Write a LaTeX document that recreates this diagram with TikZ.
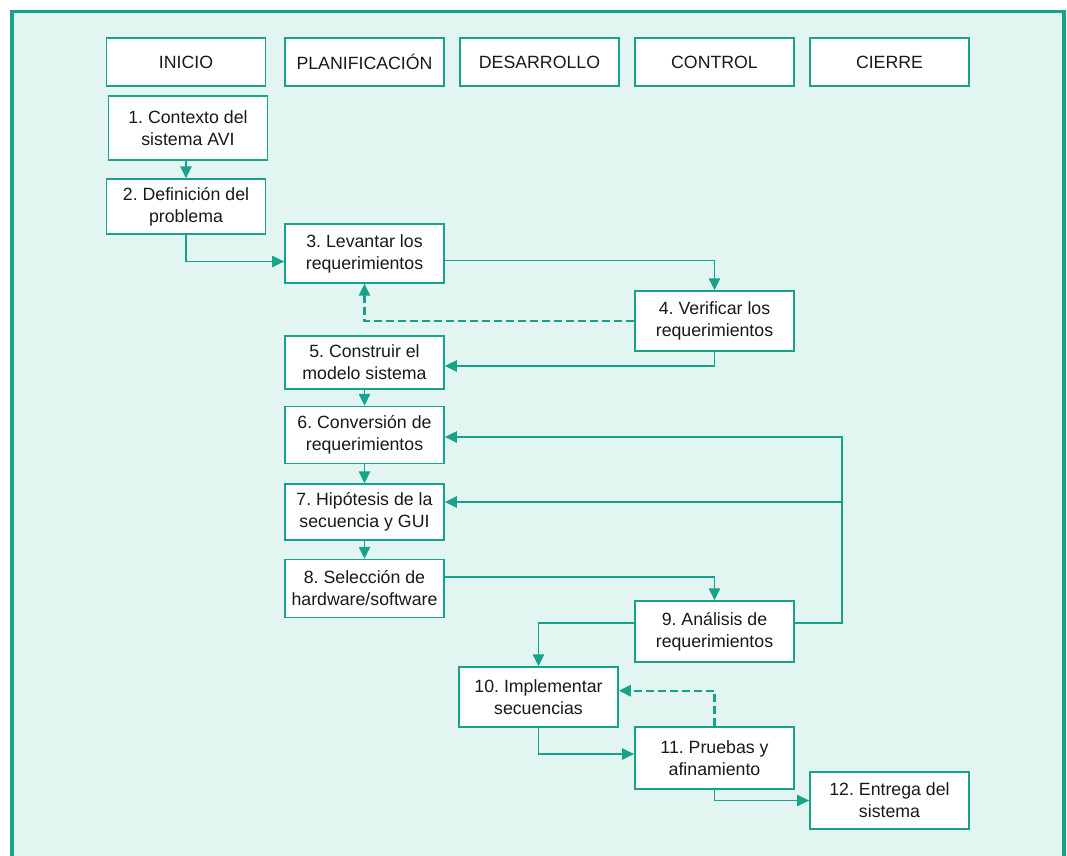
\documentclass[tikz,border=0pt]{standalone}
\usepackage{fontspec}
\setmainfont{Liberation Sans}
\usetikzlibrary{arrows.meta}
\definecolor{teal1}{RGB}{22,163,138}
\definecolor{bgc}{RGB}{227,245,240}
\definecolor{txt}{RGB}{25,25,25}
\frenchspacing
\begin{document}
\begin{tikzpicture}[x=0.75pt,y=-0.75pt,
 box/.style={draw=teal1, line width=1.1pt, fill=white, inner sep=0pt, minimum width=119.5pt, align=center, text=txt, font=\fontsize{13.3pt}{16.5pt}\selectfont},
 conn/.style={draw=teal1, line width=1.1pt, -{Triangle[length=9pt,width=8.5pt]}},
 dconn/.style={conn, line width=1.6pt, dash pattern=on 6pt off 3pt},
]
\useasboundingbox (0,0) rectangle (1067,856);
\begin{scope}
\clip (0,0) rectangle (1067,856);
\draw[draw=teal1, line width=2.3pt, fill=bgc] (12,11.5) rectangle (1064,880);
\end{scope}

% headers
\node[box, minimum height=36pt] (h1) at (186,62) {INICIO};
\node[box, minimum height=36pt] (h2) at (364.5,62) {PLANIFICACIÓN};
\node[box, minimum height=36pt] (h3) at (539.5,62) {DESARROLLO};
\node[box, minimum height=36pt] (h4) at (714.5,62) {CONTROL};
\node[box, minimum height=36pt] (h5) at (889.5,62) {CIERRE};

% steps
\node[box, minimum height=48pt] (b1) at (188,128) {1. Contexto del\\sistema AVI};
\node[box, minimum height=41.25pt] (b2) at (186,206.5) {2. Definición del\\problema};
\node[box, minimum height=44.25pt] (b3) at (364.5,253.5) {3. Levantar los\\requerimientos};
\node[box, minimum height=45pt] (b4) at (714.5,321) {4. Verificar los\\requerimientos};
\node[box, minimum height=39.75pt] (b5) at (364.5,362.5) {5. Construir el\\modelo sistema};
\node[box, minimum height=42.75pt] (b6) at (364.5,435) {6. Conversión de\\requerimientos};
\node[box, minimum height=42pt] (b7) at (364.5,512) {7. Hipótesis de la\\secuencia y GUI};
\node[box, minimum height=43.5pt] (b8) at (364.5,588.5) {8. Selección de\\hardware/software};
\node[box, minimum height=45.75pt] (b9) at (714.5,631.5) {9. Análisis de\\requerimientos};
\node[box, minimum height=45pt] (b10) at (538.5,697) {10. Implementar\\secuencias};
\node[box, minimum height=46.5pt] (b11) at (714.5,758) {11. Pruebas y\\afinamiento};
\node[box, minimum height=42.75pt] (b12) at (889.5,800.5) {12. Entrega del\\sistema};

% helper coordinates
\coordinate (rx) at (842,0);
\coordinate (b3in) at ([yshift=-6pt]b3.west);
\coordinate (b3out) at ([yshift=-5.25pt]b3.east);
\coordinate (b5in) at ([yshift=-2.6pt]b5.east);
\coordinate (b8out) at ([yshift=8.6pt]b8.east);
\coordinate (b9outR) at ([yshift=6.4pt]b9.east);
\coordinate (b9outL) at ([yshift=6.4pt]b9.west);
\coordinate (b6in) at ([yshift=-1.5pt]b6.east);
\coordinate (b7in) at ([yshift=7.5pt]b7.east);
\coordinate (b10in) at ([yshift=4.7pt]b10.east);
\coordinate (b11in) at ([yshift=3pt]b11.west);

% connectors
\draw[conn] (b2.north |- b1.south) -- (b2.north);
\draw[conn] (b2.south) |- (b3in);
\draw[conn] (b3out) -| (b4.north);
\draw[dconn] (b4.west) -| (b3.south);
\draw[conn] (b4.south) |- (b5in);
\draw[conn] (b5.south) -- (b6.north);
\draw[conn] (b6.south) -- (b7.north);
\draw[conn] (b7.south) -- (b8.north);
\draw[conn] (b8out) -| (b9.north);
\draw[conn] (b9outR) -| (rx |- b6in) -- (b6in);
\draw[conn] (rx |- b7in) -- (b7in);
\draw[conn] (b9outL) -| (b10.north);
\draw[dconn] (b11.north) |- (b10in);
\draw[conn] (b10.south) |- (b11in);
\draw[conn] (b11.south) |- (b12.west);
\end{tikzpicture}
\end{document}
